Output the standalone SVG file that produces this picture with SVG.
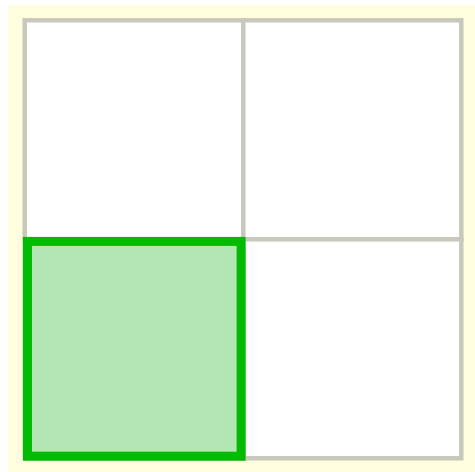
<svg xmlns="http://www.w3.org/2000/svg" width="475" height="472" viewBox="0 0 475 472">
<style>
.grid{fill:#ffffff;stroke:#c8c8bc;stroke-width:4.5}
</style>
<rect x="0" y="0" width="475" height="472" fill="#ffffff"/>
<rect x="8" y="5" width="467" height="467" fill="#ffffe0"/>
<g id="cells">
<rect id="cell-tl" class="grid" x="24.7" y="20.3" width="218.6" height="219"/>
<rect id="cell-tr" class="grid" x="243.3" y="20.3" width="218" height="219"/>
<rect id="cell-bl" class="grid" x="24.7" y="239.3" width="218.6" height="219"/>
<rect id="cell-br" class="grid" x="243.3" y="239.3" width="218" height="219"/>
</g>
<g id="highlight">
<rect x="27.5" y="241.4" width="213.6" height="214.8" fill="#b3e6b3" stroke="#00bb00" stroke-width="9"/>
</g>
</svg>
